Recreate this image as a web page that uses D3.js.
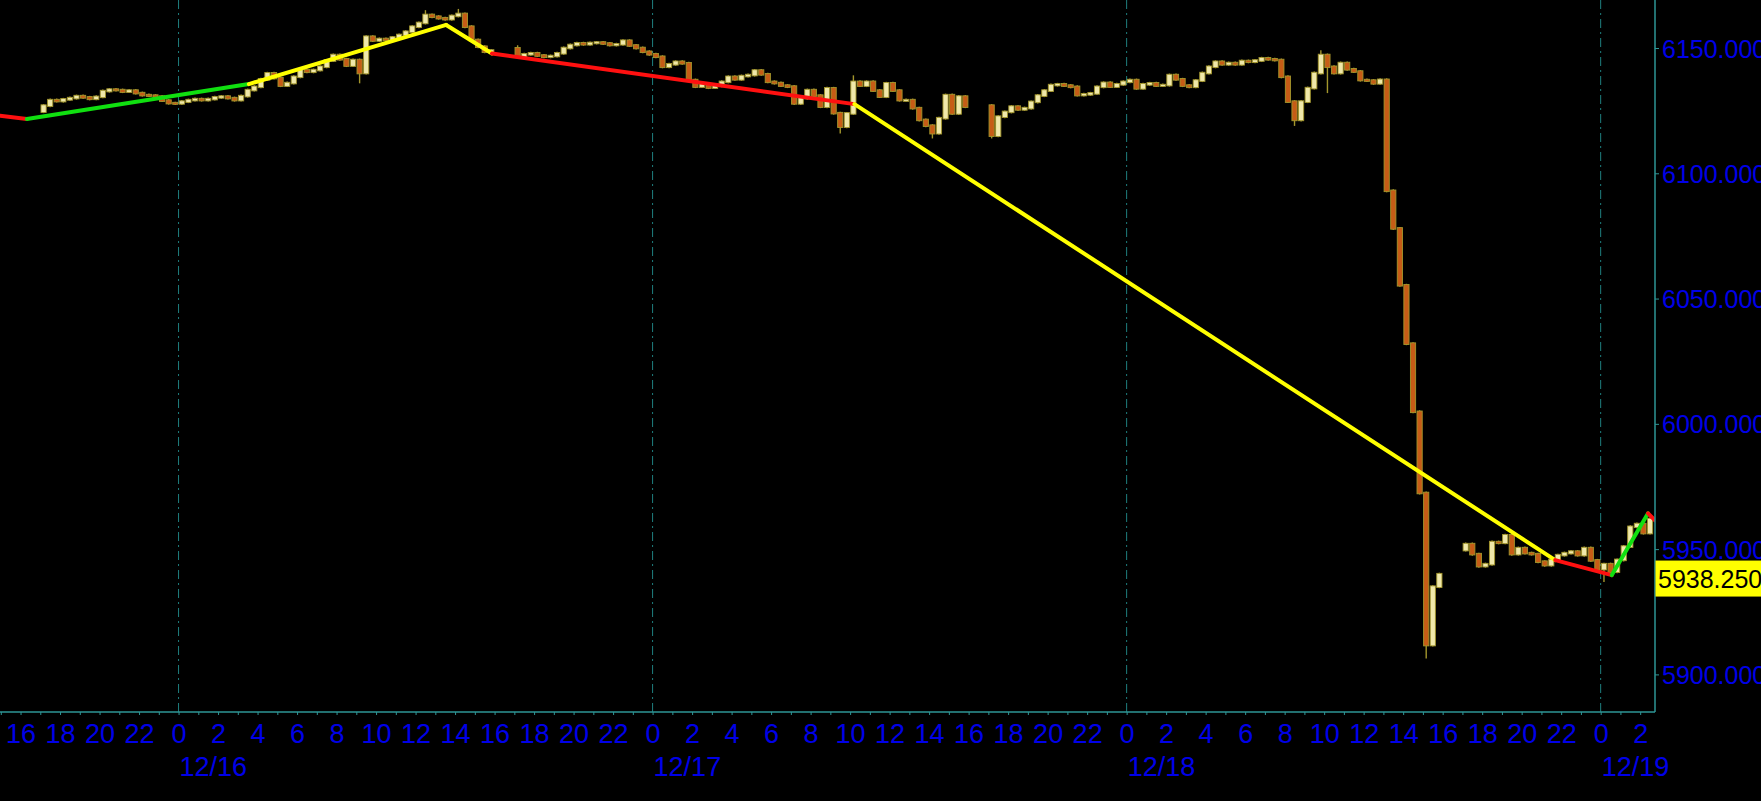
<!DOCTYPE html>
<html>
<head>
<meta charset="utf-8">
<script src="https://cdn.jsdelivr.net/npm/d3@7/dist/d3.min.js"></script>
<style>
  html, body { margin: 0; padding: 0; background: #000; overflow: hidden; }
  svg { display: block; }
</style>
</head>
<body>
<svg id="chart" width="1761" height="801"></svg>
<script>
// ---------------- DATA ----------------
// Hours are offsets from 12/16 00:00. 20-minute bars; each session lists bar closes.
const sessionStarts = [-7, 17, 41, 65];
const sessionOpens = [6124.6, 6149.9, 6127.0, 5949.6];
const session1 = [6127, 6129.2, 6128.8, 6129.5, 6130, 6130.8, 6130.3, 6129.7, 6130.5, 6132.8,
  6133.4, 6133.2, 6132.6, 6133, 6132, 6131.2, 6131, 6130.6, 6129, 6128,
  6127.9, 6128.6, 6129.2, 6129.6, 6129.2, 6129.6, 6130.3, 6130.6, 6130, 6129.2,
  6130.8, 6133.2, 6134.5, 6137.5, 6139.9, 6138, 6135, 6136, 6138.5, 6141.2,
  6140.5, 6141.2, 6142.5, 6145, 6147.2, 6145.5, 6143, 6145.2, 6140, 6154.5,
  6153, 6153.6, 6153.2, 6154.2, 6155.2, 6156.5, 6158.5, 6160, 6163.2, 6162.5,
  6161.9, 6161.5, 6162.8, 6163.6, 6158.5, 6153.2, 6150.5, 6148.5, 6149];
const session2 = [6146.5, 6147.5, 6147.9, 6147, 6146.5, 6146.8, 6147.9, 6150, 6151.2, 6151.9,
  6151.5, 6152, 6152.2, 6151.8, 6151.2, 6151.5, 6152.9, 6151, 6150, 6148.5,
  6147.5, 6146.5, 6142.5, 6143.5, 6144.5, 6143.9, 6137.2, 6134.6, 6135.5, 6134.2,
  6134.9, 6136.5, 6138.5, 6137.5, 6138.8, 6139.2, 6141, 6139.5, 6136.5, 6136,
  6135, 6134.6, 6127.9, 6130, 6133.2, 6131, 6126.6, 6133.9, 6124, 6118.6,
  6123.9, 6136.5, 6135, 6136.5, 6133, 6130.6, 6135.9, 6133, 6129.2, 6129.2,
  6126, 6121.3, 6119, 6116, 6122, 6131.2, 6123.9, 6130.6, 6126.6];
const session3 = [6115, 6122.6, 6124.5, 6126.6, 6125.5, 6126, 6128.5, 6131, 6133, 6135.2,
  6135.5, 6135, 6134.5, 6131.2, 6131.5, 6131.9, 6134.5, 6136.1, 6134.6, 6135.5,
  6136.5, 6137.2, 6133.9, 6135.5, 6135.9, 6135, 6135.2, 6139.2, 6137.5, 6135,
  6134.5, 6137, 6140, 6142.5, 6144.5, 6143.5, 6144, 6143.5, 6144.8, 6144.5,
  6145, 6145.9, 6145.5, 6145.2, 6138.5, 6128.6, 6121.3, 6128.6, 6134, 6140,
  6147.2, 6142.5, 6140, 6144, 6141.5, 6140.6, 6137.2, 6137, 6135.9, 6137.3,
  6093, 6078, 6055.3, 6032, 6004.8, 5972.4, 5911.7, 5935, 5940];
const session4 = [5952, 5948, 5943.2, 5944, 5952.8, 5952.5, 5955.5, 5948, 5950.4, 5948.4,
  5948, 5945, 5943.6, 5945.7, 5947.6, 5948.4, 5949, 5947.6, 5950.4, 5945.5,
  5942, 5944, 5941, 5945.7, 5951, 5958.9, 5960, 5956.4, 5962];
// notable wick extremes: [bar hour, price]
const wickLows = [[9.17, 6136.5], [33.5, 6116.5], [38.17, 6114.5], [41.17, 6114.5], [56.5, 6119.5], [58.17, 6132.6], [63.17, 5906.9], [72.17, 5937.5]];
const wickHighs = [[14.17, 6165], [17.17, 6150.5], [34.17, 6138.5], [57.83, 6148.5], [12.5, 6164.5]];
// zigzag overlay vertices [hour, price] and segment colours
const zigHours = [-9.04, -7.68, 3.56, 13.55, 15.87, 34.22, 69.7, 72.56, 74.4, 74.75];
const zigPrices = [6123.0, 6121.7, 6135.6, 6159.2, 6147.8, 6127.6, 5945.6, 5939.6, 5964.3, 5961.5];
const zigColors = ["#ff1010", "#10e010", "#ffff00", "#ffff00", "#ff1010", "#ffff00", "#ff1010", "#10e010", "#ff1010"];
const yTicks = [5900, 5950, 6000, 6050, 6100, 6150];
const lastPrice = 5938.25;

// ---------------- CHART ----------------
const W = 1761, H = 801;
const plotRight = 1655, plotBottom = 712;
const base = Date.UTC(2024, 11, 16);
const t = h => new Date(base + h * 3600000);
const barHours = 1 / 3;

const x = d3.scaleUtc().domain([t(-9.04), t(74.7)]).range([0, 1654]);
const y = d3.scaleLinear().domain([5884.99, 6169.16]).range([plotBottom, 0]);

const svg = d3.select("#chart");
svg.append("rect").attr("width", W).attr("height", H).attr("fill", "#000");

svg.append("defs").append("clipPath").attr("id", "plotclip")
  .append("rect").attr("x", 0).attr("y", 0).attr("width", plotRight).attr("height", plotBottom);

const teal = "#2e9696";
const blue = "#0000e8";
const font = "'Liberation Sans', Arial, sans-serif";

// day grid (dashed)
const days = x.ticks(d3.utcDay.every(1));
svg.append("g").selectAll("line").data(days).join("line")
  .attr("x1", d => x(d)).attr("x2", d => x(d))
  .attr("y1", 0).attr("y2", plotBottom)
  .attr("stroke", "#1f7f7f").attr("stroke-width", 1)
  .attr("stroke-dasharray", "9,4,2,4");

// candles
const bars = [];
[session1, session2, session3, session4].forEach((closes, si) => {
  let open = sessionOpens[si];
  closes.forEach((c, k) => {
    const h = sessionStarts[si] + (k + 0.5) * barHours;
    bars.push({ h, open, close: c });
    open = c;
  });
});
const nearest = hh => bars.reduce((a, b) => Math.abs(b.h - hh) < Math.abs(a.h - hh) ? b : a);
bars.forEach(b => { b.low = Math.min(b.open, b.close); b.high = Math.max(b.open, b.close); });
wickLows.forEach(([hh, p]) => { const b = nearest(hh); b.low = Math.min(b.low, p); });
wickHighs.forEach(([hh, p]) => { const b = nearest(hh); b.high = Math.max(b.high, p); });

const cg = svg.append("g").attr("clip-path", "url(#plotclip)");
const bw = 5.2;
cg.selectAll("line.wick").data(bars).join("line").attr("class", "wick")
  .attr("x1", d => x(t(d.h))).attr("x2", d => x(t(d.h)))
  .attr("y1", d => y(d.high) - 1.5).attr("y2", d => y(d.low) + 1.5)
  .attr("stroke", "#a3962c").attr("stroke-width", 1.4);
cg.selectAll("rect.body").data(bars).join("rect").attr("class", "body")
  .attr("x", d => x(t(d.h)) - bw / 2)
  .attr("width", bw)
  .attr("y", d => y(Math.max(d.open, d.close)) - 0.8)
  .attr("height", d => Math.max(2, Math.abs(y(d.open) - y(d.close)) + 1.6))
  .attr("fill", d => d.close >= d.open ? "#f0e8aa" : "#c65c16")
  .attr("stroke", "#a3962c").attr("stroke-width", 0.9);

// zigzag overlay
const zg = svg.append("g").attr("clip-path", "url(#plotclip)");
const segs = zigColors.map((c, i) => ({ i, c }));
zg.selectAll("line").data(segs).join("line")
  .attr("x1", d => x(t(zigHours[d.i]))).attr("y1", d => y(zigPrices[d.i]))
  .attr("x2", d => x(t(zigHours[d.i + 1]))).attr("y2", d => y(zigPrices[d.i + 1]))
  .attr("stroke", d => d.c).attr("stroke-width", 4).attr("stroke-linecap", "round");

// right axis
const yAxis = d3.axisRight(y).tickValues(yTicks).tickFormat(d3.format(".3f")).tickSize(4).tickPadding(3);
const ya = svg.append("g").attr("transform", `translate(${plotRight},0)`).call(yAxis);
ya.select(".domain").remove();
ya.selectAll(".tick line").attr("stroke", teal);
ya.selectAll("text").attr("fill", blue).attr("font-family", font).attr("font-size", 25).attr("dy", "0.36em");
svg.append("line").attr("x1", plotRight).attr("x2", plotRight).attr("y1", 0).attr("y2", plotBottom)
  .attr("stroke", teal).attr("stroke-width", 1.5);

// bottom axis: hourly minor ticks
const xMinor = d3.axisBottom(x).ticks(d3.utcHour.every(1)).tickSize(3).tickFormat("");
const xm = svg.append("g").attr("transform", `translate(0,${plotBottom})`).call(xMinor);
xm.select(".domain").remove();
xm.selectAll(".tick line").attr("stroke", teal);
// hour labels every 2h
const xLab = d3.axisBottom(x).ticks(d3.utcHour.every(2)).tickSize(0).tickFormat(d => String(d.getUTCHours()));
const xl = svg.append("g").attr("transform", `translate(0,${plotBottom})`).call(xLab);
xl.select(".domain").remove();
xl.selectAll("text").attr("y", 31).attr("dy", 0).attr("fill", blue)
  .attr("font-family", font).attr("font-size", 27);
svg.append("line").attr("x1", 0).attr("x2", plotRight).attr("y1", plotBottom).attr("y2", plotBottom)
  .attr("stroke", teal).attr("stroke-width", 1.5);

// date labels
const fmtDate = d3.utcFormat("%m/%d");
svg.append("g").selectAll("text").data(days).join("text")
  .attr("x", d => x(d) + 1).attr("y", 776)
  .attr("fill", blue).attr("font-family", font).attr("font-size", 27)
  .text(d => fmtDate(d));

// last price tag
const py = y(lastPrice);
svg.append("rect").attr("x", plotRight + 0.5).attr("y", py - 18).attr("width", W - plotRight).attr("height", 36)
  .attr("fill", "#ffff00");
svg.append("text").attr("x", plotRight + 3).attr("y", py).attr("dy", "0.36em")
  .attr("fill", "#000").attr("font-family", font).attr("font-size", 25)
  .text(d3.format(".3f")(lastPrice));
</script>
</body>
</html>
